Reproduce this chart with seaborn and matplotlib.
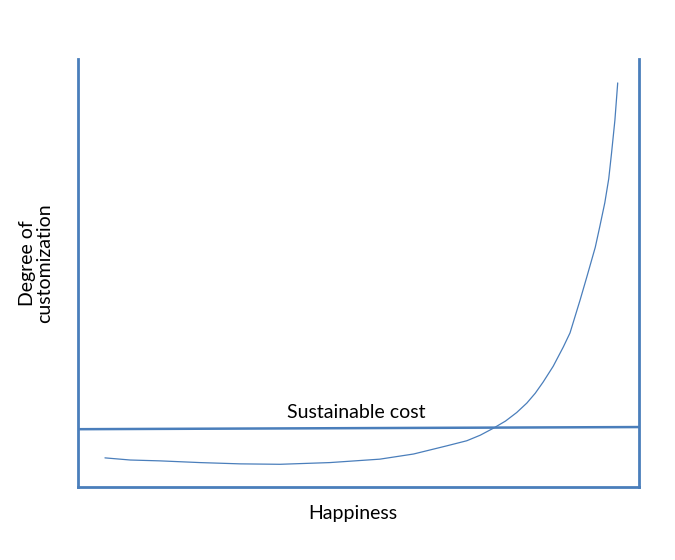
import pandas as pd
import matplotlib
matplotlib.use("Agg")
import matplotlib.pyplot as plt
import seaborn as sns

# values (happiness 0-100, customization 0-100)
happiness = [4.8, 9.3, 14.6, 21.7, 28.9, 36.0, 44.9, 53.8, 59.8, 65.7, 69.3,
             71.7, 74.0, 76.2, 78.2, 80.0, 81.5, 82.9, 84.7, 86.5, 87.7, 89.5,
             90.7, 92.2, 93.0, 93.9, 94.6, 95.1, 95.7, 96.2]
customization = [6.8, 6.3, 6.1, 5.7, 5.4, 5.3, 5.7, 6.5, 7.7, 9.6, 10.8,
                 12.1, 13.7, 15.4, 17.4, 19.6, 21.9, 24.5, 28.2, 32.7, 36.0, 43.7,
                 49.1, 56.0, 60.8, 66.4, 72.0, 78.0, 85.7, 94.4]
cost_x = [0, 100]
cost_y = [13.5, 14.0]

blue = "#4a7ebb"

sns.set_style("white")
plt.rcParams['font.family'] = ['Lato', 'DejaVu Sans']
plt.rcParams['text.color'] = 'black'

fig = plt.figure(figsize=(6.75, 5.6), dpi=100)
ax = fig.add_axes([0.1156, 0.1304, 0.8311, 0.7643])

curve = pd.DataFrame({"happiness": happiness, "customization": customization})
cost = pd.DataFrame({"happiness": cost_x, "customization": cost_y})

sns.lineplot(data=curve, x="happiness", y="customization", color=blue,
             linewidth=0.9, ax=ax, sort=False)
sns.lineplot(data=cost, x="happiness", y="customization", color=blue,
             linewidth=1.8, ax=ax)

ax.set_xlim(0, 100)
ax.set_ylim(0, 100)
ax.set_xticks([])
ax.set_yticks([])
ax.set_xlabel("")
ax.set_ylabel("")
ax.spines["top"].set_visible(False)
for side in ["left", "right", "bottom"]:
    ax.spines[side].set_color(blue)
    ax.spines[side].set_linewidth(2.0)

ax.text(49.6, 17.3, "Sustainable cost", ha="center", va="center", fontsize=14)
fig.text(353 / 675, 1 - 514 / 560, "Happiness", ha="center", va="center", fontsize=14)
fig.text(36 / 675, 1 - 263 / 560, "Degree of\ncustomization", ha="center",
         va="center", rotation=90, multialignment="center", fontsize=14,
         linespacing=1.0)

fig.savefig("out.png", dpi=100)
